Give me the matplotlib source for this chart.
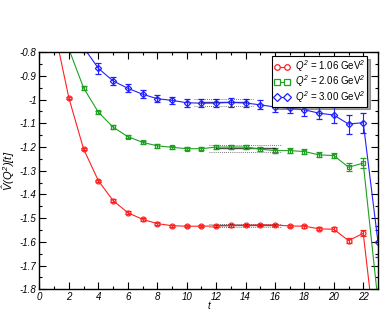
import numpy as np
import matplotlib
matplotlib.use("Agg")
import matplotlib.pyplot as plt
from matplotlib.lines import Line2D
from matplotlib.ticker import MultipleLocator, FormatStrFormatter

plt.rcParams['font.family'] = ['Liberation Sans', 'DejaVu Sans']
plt.rcParams['mathtext.fontset'] = 'custom'
plt.rcParams['mathtext.it'] = 'Liberation Sans:italic'
plt.rcParams['mathtext.rm'] = 'Liberation Sans:italic'

# time slices
t = np.arange(1, 24)

# Q^2 = 1.06 GeV^2
v_red = [-0.70, -0.994, -1.209, -1.342, -1.426, -1.477, -1.505, -1.523, -1.532, -1.534,
         -1.534, -1.533, -1.531, -1.530, -1.529, -1.529, -1.533, -1.534, -1.545, -1.547,
         -1.595, -1.564, -2.10]
e_red = [0.005, 0.005, 0.005, 0.005, 0.005, 0.005, 0.005, 0.005, 0.005, 0.005,
         0.005, 0.005, 0.005, 0.005, 0.005, 0.005, 0.006, 0.006, 0.007, 0.008,
         0.010, 0.013, 0.03]

# Q^2 = 2.06 GeV^2
v_green = [-0.50, -0.787, -0.951, -1.053, -1.116, -1.156, -1.180, -1.195, -1.201, -1.207,
           -1.207, -1.200, -1.200, -1.200, -1.209, -1.215, -1.215, -1.219, -1.233, -1.236,
           -1.285, -1.268, -1.85]
e_green = [0.006, 0.006, 0.007, 0.007, 0.007, 0.007, 0.007, 0.007, 0.007, 0.007,
           0.007, 0.007, 0.007, 0.007, 0.008, 0.009, 0.009, 0.010, 0.011, 0.012,
           0.018, 0.020, 0.05]

# Q^2 = 3.00 GeV^2
v_blue = [-0.30, -0.60, -0.78, -0.868, -0.921, -0.952, -0.977, -0.996, -1.003, -1.013,
          -1.015, -1.014, -1.011, -1.014, -1.022, -1.031, -1.036, -1.043, -1.057, -1.065,
          -1.103, -1.097, -1.600]
e_blue = [0.02, 0.02, 0.02, 0.022, 0.018, 0.017, 0.016, 0.016, 0.016, 0.017,
          0.017, 0.017, 0.018, 0.018, 0.019, 0.020, 0.022, 0.024, 0.026, 0.032,
          0.040, 0.042, 0.065]

labels = [r'$Q^2$ = 1.06 GeV$^2$', r'$Q^2$ = 2.06 GeV$^2$', r'$Q^2$ = 3.00 GeV$^2$']
colors = ['#ff2020', '#20a020', '#2020ff']
markers = ['o', 's', 'D']

# plateau fits: (tmin, tmax, value, error)
fit_red = (12, 16, -1.531, 0.008)
fit_green = (12, 16, -1.206, 0.014)
fit_blue = (11, 14, -1.012, 0.016)

fig = plt.figure(figsize=(3.82, 3.11), dpi=100)
ax = fig.add_axes([0.1034, 0.070, 0.886, 0.762])

series = [(v_red, e_red), (v_green, e_green), (v_blue, e_blue)]
handles = []
for (v, e), lab, c, m in zip(series, labels, colors, markers):
    ms = 3.5 if m != 'D' else 3.2
    ax.errorbar(t, v, yerr=e, color=c, lw=0.8, marker=m, ms=ms,
                mfc='none', mec=c, mew=0.9, capsize=2.5, elinewidth=0.8, capthick=0.8)
    handles.append(Line2D([], [], color=c, lw=0.8, marker=m, ms=ms + 0.5, mfc='white',
                          mec=c, mew=0.9, label=lab))

for tmin, tmax, val, err in [fit_red, fit_green, fit_blue]:
    ax.plot([tmin, tmax], [val, val], color='black', lw=1.0, alpha=0.7)
    for s in (-1, 1):
        ax.plot([tmin - 0.5, tmax + 0.5], [val + s * err] * 2, color='black', lw=0.6,
                ls=(0, (1, 1.5)), alpha=0.7)

ax.set_xlim(0, 23)
ax.set_ylim(-1.8, -0.8)
ax.xaxis.set_major_locator(MultipleLocator(2))
ax.xaxis.set_minor_locator(MultipleLocator(1))
ax.yaxis.set_major_locator(MultipleLocator(0.1))
ax.yaxis.set_minor_locator(MultipleLocator(0.05))
ax.yaxis.set_major_formatter(FormatStrFormatter('%g'))
ax.tick_params(which='both', direction='in', top=True, right=True, labelsize=7,
               width=0.8, pad=2)
ax.tick_params(which='major', length=5)
ax.tick_params(which='minor', length=2.5)
for lab in ax.get_xticklabels() + ax.get_yticklabels():
    lab.set_fontstyle('italic')
for sp in ax.spines.values():
    sp.set_linewidth(1.0)

ax.set_xlabel('t', fontsize=7, fontstyle='italic', labelpad=-1)
ax.set_ylabel(r'$\hat{V}(Q^2)[t]$', fontsize=8, labelpad=2)

leg = ax.legend(handles=handles, loc='upper right', bbox_to_anchor=(0.968, 0.983),
                fontsize=7, frameon=True, fancybox=False, shadow=True, numpoints=2,
                handlelength=1.6, borderpad=0.2, labelspacing=-0.05, handletextpad=0.5,
                borderaxespad=0.0)
leg.get_frame().set_edgecolor('black')
leg.get_frame().set_linewidth(0.8)

fig.savefig('out.png', dpi=100)
